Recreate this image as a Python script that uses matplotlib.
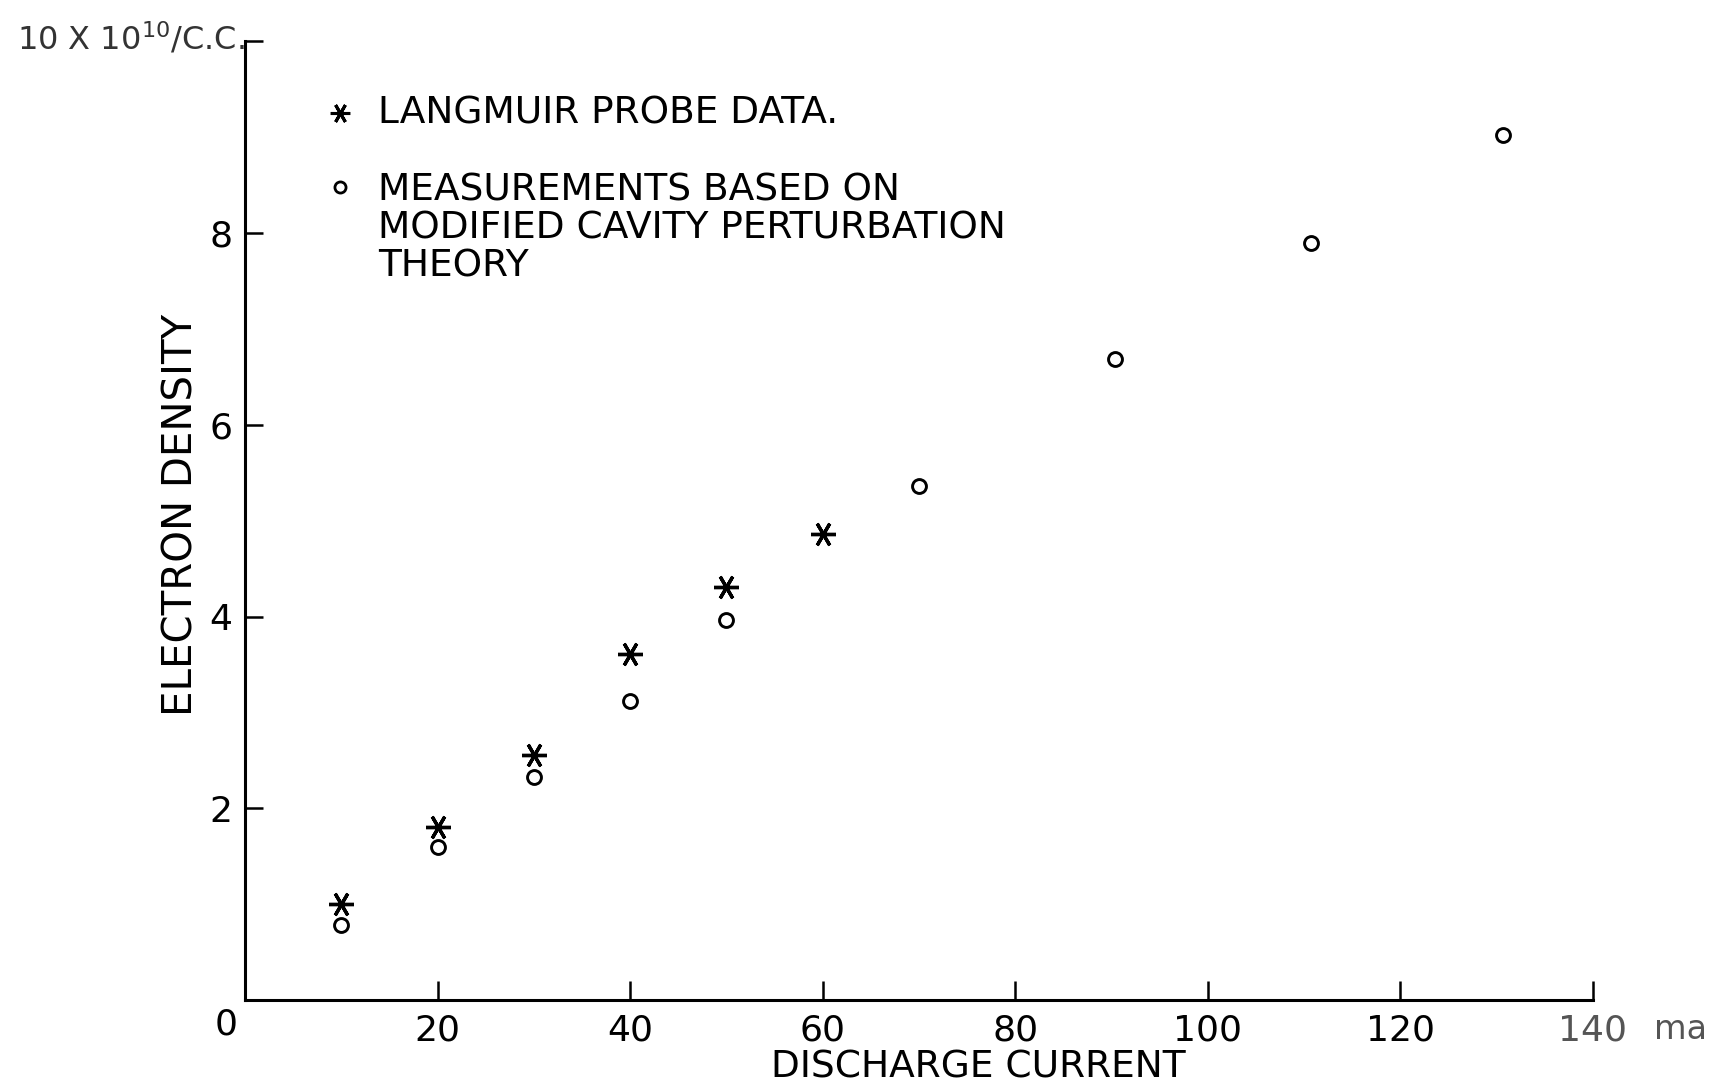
import numpy as np
import matplotlib
matplotlib.use('Agg')
import matplotlib.pyplot as plt

# -- data
probe_current = [10, 20, 30, 40, 50, 60]
probe_density = [1.00, 1.81, 2.56, 3.61, 4.31, 4.86]

cavity_current = [10, 20, 30, 40, 50, 70, 90.4, 110.7, 130.7]
cavity_density = [0.78, 1.60, 2.33, 3.12, 3.96, 5.36, 6.69, 7.90, 9.02]

x_ticks = [20, 40, 60, 80, 100, 120, 140]
y_ticks = [2, 4, 6, 8, 10]
y_tick_labels = ['2', '4', '6', '8', '']

probe_label = 'LANGMUIR PROBE DATA.'
cavity_label = ['MEASUREMENTS BASED ON', 'MODIFIED CAVITY PERTURBATION', 'THEORY']

STAR = (6, 2, 90)   # six-armed asterisk with a horizontal arm


def main():
    plt.rcParams['font.family'] = ['DejaVu Sans']
    fig = plt.figure(figsize=(17.17, 10.87), dpi=100)
    ax = fig.add_axes([0.1427, 0.080, 0.785, 0.882])

    ax.plot(probe_current, probe_density, linestyle='none', marker=STAR,
            markersize=18, markeredgewidth=2.4, color='black')
    ax.plot(cavity_current, cavity_density, linestyle='none', marker='o',
            markersize=10, markeredgewidth=2.1, markerfacecolor='white',
            markeredgecolor='black')

    ax.set_xlim(0, 140)
    ax.set_ylim(0, 10)

    for side in ('top', 'right'):
        ax.spines[side].set_visible(False)
    for side in ('left', 'bottom'):
        ax.spines[side].set_linewidth(2.2)

    ax.set_xticks(x_ticks)
    ax.set_xticklabels([str(v) for v in x_ticks])
    ax.set_yticks(y_ticks)
    ax.set_yticklabels(y_tick_labels)
    ax.tick_params(axis='x', direction='in', length=14, width=1.8,
                   labelsize=26, pad=10)
    ax.tick_params(axis='y', direction='in', length=13, width=1.8,
                   labelsize=26, pad=9)
    ax.get_xticklabels()[-1].set_color('#555555')

    # origin label and units
    ax.text(-0.014, -0.026, '0', transform=ax.transAxes, fontsize=26,
            ha='center', va='center')
    ax.text(1.065, -0.031, 'ma', transform=ax.transAxes, fontsize=24,
            ha='center', va='center', color='#555555')
    ax.text(0.0, 1.003, r'10 X 10$^{10}$/C.C.', transform=ax.transAxes,
            fontsize=23, ha='right', va='center', color='#333333')

    ax.set_xlabel('DISCHARGE CURRENT', fontsize=27)
    ax.xaxis.set_label_coords(0.544, -0.052)
    ax.set_ylabel('ELECTRON DENSITY', fontsize=29)
    ax.yaxis.set_label_coords(-0.032, 0.506)

    # hand-drawn key in the upper left
    key_x = 0.0705
    ax.plot([key_x], [0.925], transform=ax.transAxes, linestyle='none',
            marker=STAR, markersize=14, markeredgewidth=2.2, color='black',
            clip_on=False)
    ax.text(0.099, 0.925, probe_label, transform=ax.transAxes, fontsize=27,
            ha='left', va='center')

    ax.plot([key_x], [0.848], transform=ax.transAxes, linestyle='none',
            marker='o', markersize=8, markeredgewidth=2.0,
            markerfacecolor='white', markeredgecolor='black', clip_on=False)
    for i, line in enumerate(cavity_label):
        ax.text(0.099, 0.844 - i * 0.0395, line, transform=ax.transAxes,
                fontsize=27, ha='left', va='center')

    fig.savefig('out.png', dpi=100, facecolor='white')


if __name__ == '__main__':
    main()
